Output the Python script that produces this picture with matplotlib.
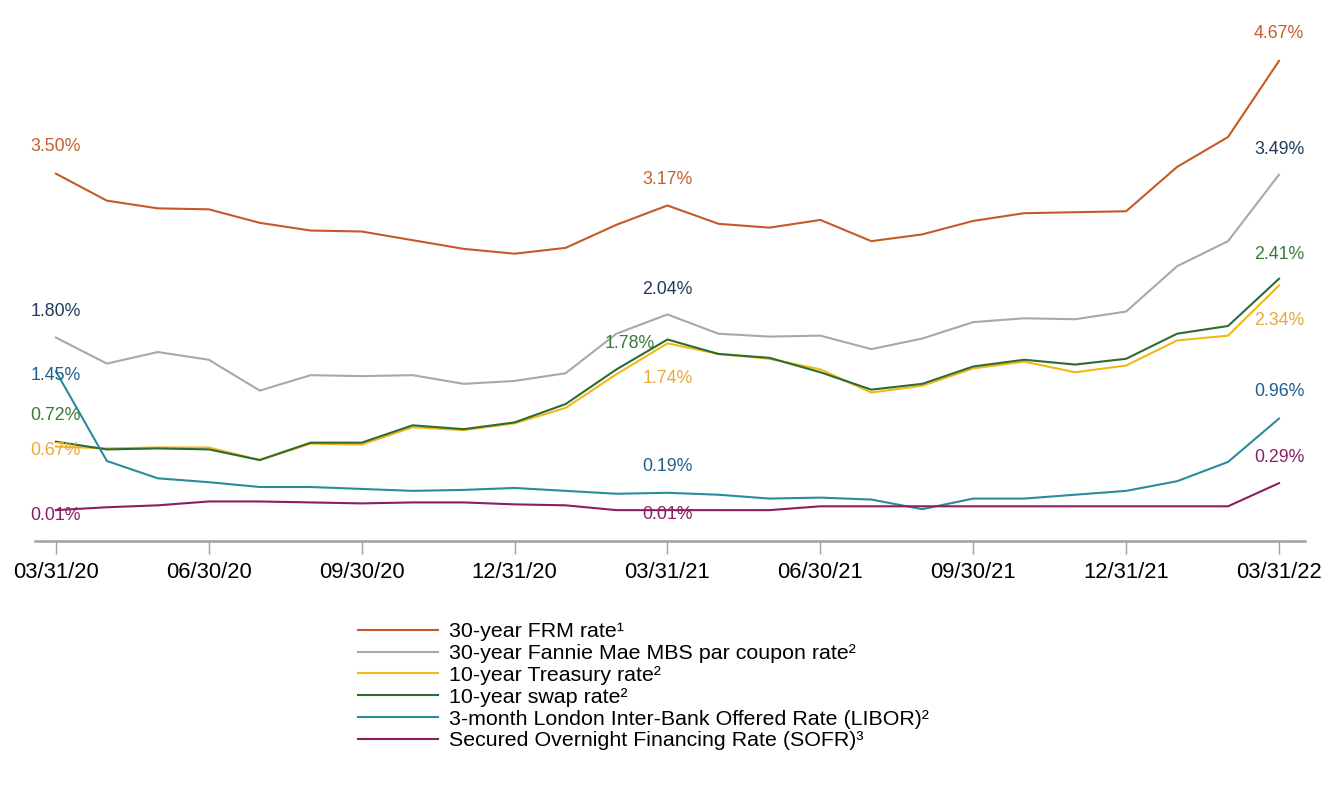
import matplotlib
matplotlib.use("Agg")
import numpy as np
import matplotlib.pyplot as plt

plt.rcParams['font.family'] = ['Liberation Sans', 'DejaVu Sans']

# monthly dates, 03/31/20 .. 03/31/22
n_months = 25
tick_labels = ["03/31/20", "06/30/20", "09/30/20", "12/31/20", "03/31/21",
               "06/30/21", "09/30/21", "12/31/21", "03/31/22"]

frm = [3.50, 3.22, 3.14, 3.13, 2.99, 2.91, 2.90, 2.81, 2.72, 2.67, 2.73, 2.97, 3.17,
       2.98, 2.94, 3.02, 2.80, 2.87, 3.01, 3.09, 3.10, 3.11, 3.57, 3.88, 4.67]
mbs = [1.80, 1.53, 1.65, 1.57, 1.25, 1.41, 1.40, 1.41, 1.32, 1.35, 1.43, 1.84, 2.04,
       1.84, 1.81, 1.82, 1.68, 1.79, 1.96, 2.00, 1.99, 2.07, 2.54, 2.80, 3.49]
treasury = [0.67, 0.65, 0.66, 0.66, 0.53, 0.70, 0.69, 0.87, 0.84, 0.91, 1.07, 1.42, 1.74,
            1.63, 1.58, 1.47, 1.23, 1.30, 1.48, 1.55, 1.44, 1.51, 1.77, 1.82, 2.34]
swap = [0.72, 0.64, 0.65, 0.64, 0.53, 0.71, 0.71, 0.89, 0.85, 0.92, 1.11, 1.47, 1.78,
        1.63, 1.59, 1.44, 1.26, 1.32, 1.50, 1.57, 1.52, 1.58, 1.84, 1.92, 2.41]
libor = [1.45, 0.52, 0.34, 0.30, 0.25, 0.25, 0.23, 0.21, 0.22, 0.24, 0.21, 0.18, 0.19,
         0.17, 0.13, 0.14, 0.12, 0.02, 0.13, 0.13, 0.17, 0.21, 0.31, 0.51, 0.96]
sofr = [0.01, 0.04, 0.06, 0.10, 0.10, 0.09, 0.08, 0.09, 0.09, 0.07, 0.06, 0.01, 0.01,
        0.01, 0.01, 0.05, 0.05, 0.05, 0.05, 0.05, 0.05, 0.05, 0.05, 0.05, 0.29]

names = ["30-year FRM rate¹", "30-year Fannie Mae MBS par coupon rate²",
         "10-year Treasury rate²", "10-year swap rate²",
         "3-month London Inter-Bank Offered Rate (LIBOR)²",
         "Secured Overnight Financing Rate (SOFR)³"]

x = np.arange(n_months)

# (series, line colour, label colour, label offsets in px for first/middle/last point)
styles = [
    (frm, "#C55A28", "#C8602E", [(0, 27), (0, 26), (0, 27)]),
    (mbs, "#A7A7B2", "#1F3D5A", [(0, 26), (0, 25), (0, 25)]),
    (treasury, "#F2B817", "#E8A93A", [(0, -4), (0, -35), (0, -35)]),
    (swap, "#2E6B30", "#3A7A3A", [(0, 26), (-38, -4), (0, 24)]),
    (libor, "#2A8C9A", "#1F5F8A", [(0, -4), (0, 26), (0, 27)]),
    (sofr, "#8B1F5E", "#8B2060", [(0, -5), (0, -4), (0, 26)]),
]

fig = plt.figure(figsize=(13.36, 8.0), dpi=100)
ax = fig.add_axes([0.0262, 0.32375, 0.9506, 0.63875])

lines = []
for (vals, c, lc, offs), name in zip(styles, names):
    ln, = ax.plot(x, vals, color=c, lw=1.5, label=name)
    lines.append(ln)
    for idx, (dx, dy) in zip([0, 12, 24], offs):
        ax.annotate(f"{vals[idx]:.2f}%", (x[idx], vals[idx]), xytext=(dx, dy),
                    textcoords="offset pixels", ha="center", va="center",
                    color=lc, fontsize=12.8)

ax.set_xlim(-0.41, 24.51)
ax.set_ylim(-0.31, 4.99)
ax.set_xticks(np.arange(0, n_months, 3))
ax.set_xticklabels(tick_labels, fontsize=15.8)
ax.set_yticks([])
for s in ["top", "right", "left"]:
    ax.spines[s].set_visible(False)
ax.spines["bottom"].set_color("#A0A0A0")
ax.spines["bottom"].set_linewidth(1.8)
ax.tick_params(axis="x", length=9, width=1, color="#A0A0A0", pad=6)

fig.legend(handles=lines, loc="upper left", bbox_to_anchor=(0.268, 0.222),
           frameon=False, fontsize=15.4, handlelength=3.74, handletextpad=0.5,
           labelspacing=0.13, borderpad=0, borderaxespad=0)

fig.savefig("out.png", dpi=100)
